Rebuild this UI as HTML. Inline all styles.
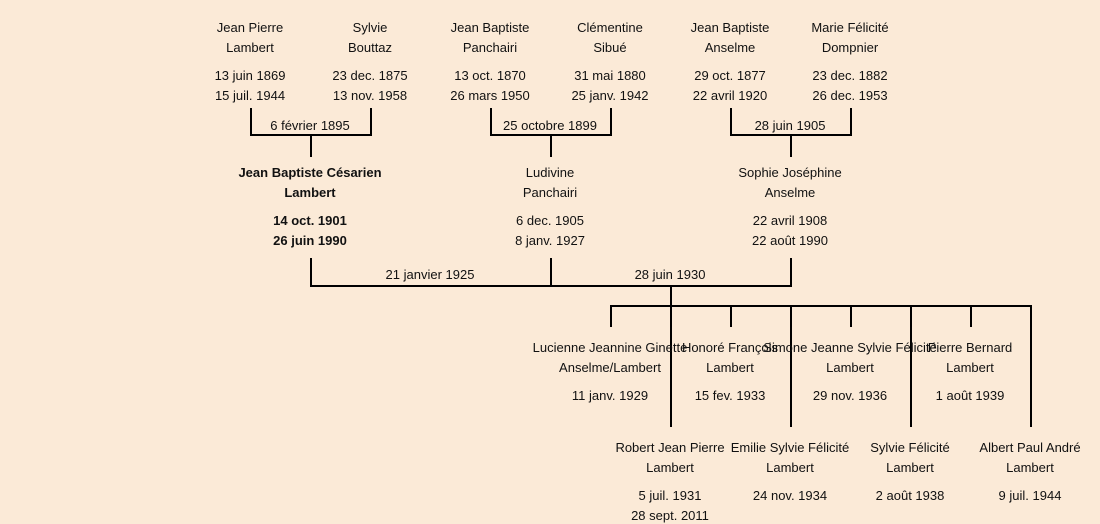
<!DOCTYPE html>
<html><head><meta charset="utf-8"><style>
html,body{margin:0;padding:0;}
body{width:1100px;height:521px;background:#fbead7;position:relative;overflow:hidden;font-family:"Liberation Sans",sans-serif;font-size:13px;color:#111;}
.t{position:absolute;width:200px;margin-left:-100px;text-align:center;white-space:nowrap;line-height:16px;margin-top:-7px;}
.b{font-weight:bold;}
.l{position:absolute;background:#000;}
</style></head><body>
<div class="l" style="left:250px;top:108px;width:2px;height:28px"></div>
<div class="l" style="left:370px;top:108px;width:2px;height:28px"></div>
<div class="l" style="left:250px;top:134px;width:122px;height:2px"></div>
<div class="l" style="left:310px;top:134px;width:2px;height:23px"></div>
<div class="l" style="left:490px;top:108px;width:2px;height:28px"></div>
<div class="l" style="left:610px;top:108px;width:2px;height:28px"></div>
<div class="l" style="left:490px;top:134px;width:122px;height:2px"></div>
<div class="l" style="left:550px;top:134px;width:2px;height:23px"></div>
<div class="l" style="left:730px;top:108px;width:2px;height:28px"></div>
<div class="l" style="left:850px;top:108px;width:2px;height:28px"></div>
<div class="l" style="left:730px;top:134px;width:122px;height:2px"></div>
<div class="l" style="left:790px;top:134px;width:2px;height:23px"></div>
<div class="l" style="left:310px;top:258px;width:2px;height:29px"></div>
<div class="l" style="left:550px;top:258px;width:2px;height:29px"></div>
<div class="l" style="left:790px;top:258px;width:2px;height:29px"></div>
<div class="l" style="left:310px;top:285px;width:482px;height:2px"></div>
<div class="l" style="left:670px;top:285px;width:2px;height:22px"></div>
<div class="l" style="left:610px;top:305px;width:422px;height:2px"></div>
<div class="l" style="left:610px;top:305px;width:2px;height:22px"></div>
<div class="l" style="left:730px;top:305px;width:2px;height:22px"></div>
<div class="l" style="left:850px;top:305px;width:2px;height:22px"></div>
<div class="l" style="left:970px;top:305px;width:2px;height:22px"></div>
<div class="l" style="left:670px;top:305px;width:2px;height:122px"></div>
<div class="l" style="left:790px;top:305px;width:2px;height:122px"></div>
<div class="l" style="left:910px;top:305px;width:2px;height:122px"></div>
<div class="l" style="left:1030px;top:305px;width:2px;height:122px"></div>
<div class="t" style="left:250px;top:27px">Jean Pierre</div><div class="t" style="left:250px;top:47px">Lambert</div>
<div class="t" style="left:250px;top:75px">13 juin 1869</div><div class="t" style="left:250px;top:95px">15 juil. 1944</div>
<div class="t" style="left:370px;top:27px">Sylvie</div><div class="t" style="left:370px;top:47px">Bouttaz</div>
<div class="t" style="left:370px;top:75px">23 dec. 1875</div><div class="t" style="left:370px;top:95px">13 nov. 1958</div>
<div class="t" style="left:490px;top:27px">Jean Baptiste</div><div class="t" style="left:490px;top:47px">Panchairi</div>
<div class="t" style="left:490px;top:75px">13 oct. 1870</div><div class="t" style="left:490px;top:95px">26 mars 1950</div>
<div class="t" style="left:610px;top:27px">Clémentine</div><div class="t" style="left:610px;top:47px">Sibué</div>
<div class="t" style="left:610px;top:75px">31 mai 1880</div><div class="t" style="left:610px;top:95px">25 janv. 1942</div>
<div class="t" style="left:730px;top:27px">Jean Baptiste</div><div class="t" style="left:730px;top:47px">Anselme</div>
<div class="t" style="left:730px;top:75px">29 oct. 1877</div><div class="t" style="left:730px;top:95px">22 avril 1920</div>
<div class="t" style="left:850px;top:27px">Marie Félicité</div><div class="t" style="left:850px;top:47px">Dompnier</div>
<div class="t" style="left:850px;top:75px">23 dec. 1882</div><div class="t" style="left:850px;top:95px">26 dec. 1953</div>
<div class="t" style="left:310px;top:125px">6 février 1895</div>
<div class="t" style="left:550px;top:125px">25 octobre 1899</div>
<div class="t" style="left:790px;top:125px">28 juin 1905</div>
<div class="t b" style="left:310px;top:172px">Jean Baptiste Césarien</div><div class="t b" style="left:310px;top:192px">Lambert</div>
<div class="t b" style="left:310px;top:220px">14 oct. 1901</div><div class="t b" style="left:310px;top:240px">26 juin 1990</div>
<div class="t" style="left:550px;top:172px">Ludivine</div><div class="t" style="left:550px;top:192px">Panchairi</div>
<div class="t" style="left:550px;top:220px">6 dec. 1905</div><div class="t" style="left:550px;top:240px">8 janv. 1927</div>
<div class="t" style="left:790px;top:172px">Sophie Joséphine</div><div class="t" style="left:790px;top:192px">Anselme</div>
<div class="t" style="left:790px;top:220px">22 avril 1908</div><div class="t" style="left:790px;top:240px">22 août 1990</div>
<div class="t" style="left:430px;top:274px">21 janvier 1925</div>
<div class="t" style="left:670px;top:274px">28 juin 1930</div>
<div class="t" style="left:610px;top:347px">Lucienne Jeannine Ginette</div><div class="t" style="left:610px;top:367px">Anselme/Lambert</div><div class="t" style="left:610px;top:395px">11 janv. 1929</div>
<div class="t" style="left:730px;top:347px">Honoré François</div><div class="t" style="left:730px;top:367px">Lambert</div><div class="t" style="left:730px;top:395px">15 fev. 1933</div>
<div class="t" style="left:850px;top:347px">Simone Jeanne Sylvie Félicité</div><div class="t" style="left:850px;top:367px">Lambert</div><div class="t" style="left:850px;top:395px">29 nov. 1936</div>
<div class="t" style="left:970px;top:347px">Pierre Bernard</div><div class="t" style="left:970px;top:367px">Lambert</div><div class="t" style="left:970px;top:395px">1 août 1939</div>
<div class="t" style="left:670px;top:447px">Robert Jean Pierre</div><div class="t" style="left:670px;top:467px">Lambert</div><div class="t" style="left:670px;top:495px">5 juil. 1931</div><div class="t" style="left:670px;top:515px">28 sept. 2011</div>
<div class="t" style="left:790px;top:447px">Emilie Sylvie Félicité</div><div class="t" style="left:790px;top:467px">Lambert</div><div class="t" style="left:790px;top:495px">24 nov. 1934</div>
<div class="t" style="left:910px;top:447px">Sylvie Félicité</div><div class="t" style="left:910px;top:467px">Lambert</div><div class="t" style="left:910px;top:495px">2 août 1938</div>
<div class="t" style="left:1030px;top:447px">Albert Paul André</div><div class="t" style="left:1030px;top:467px">Lambert</div><div class="t" style="left:1030px;top:495px">9 juil. 1944</div>
</body></html>
